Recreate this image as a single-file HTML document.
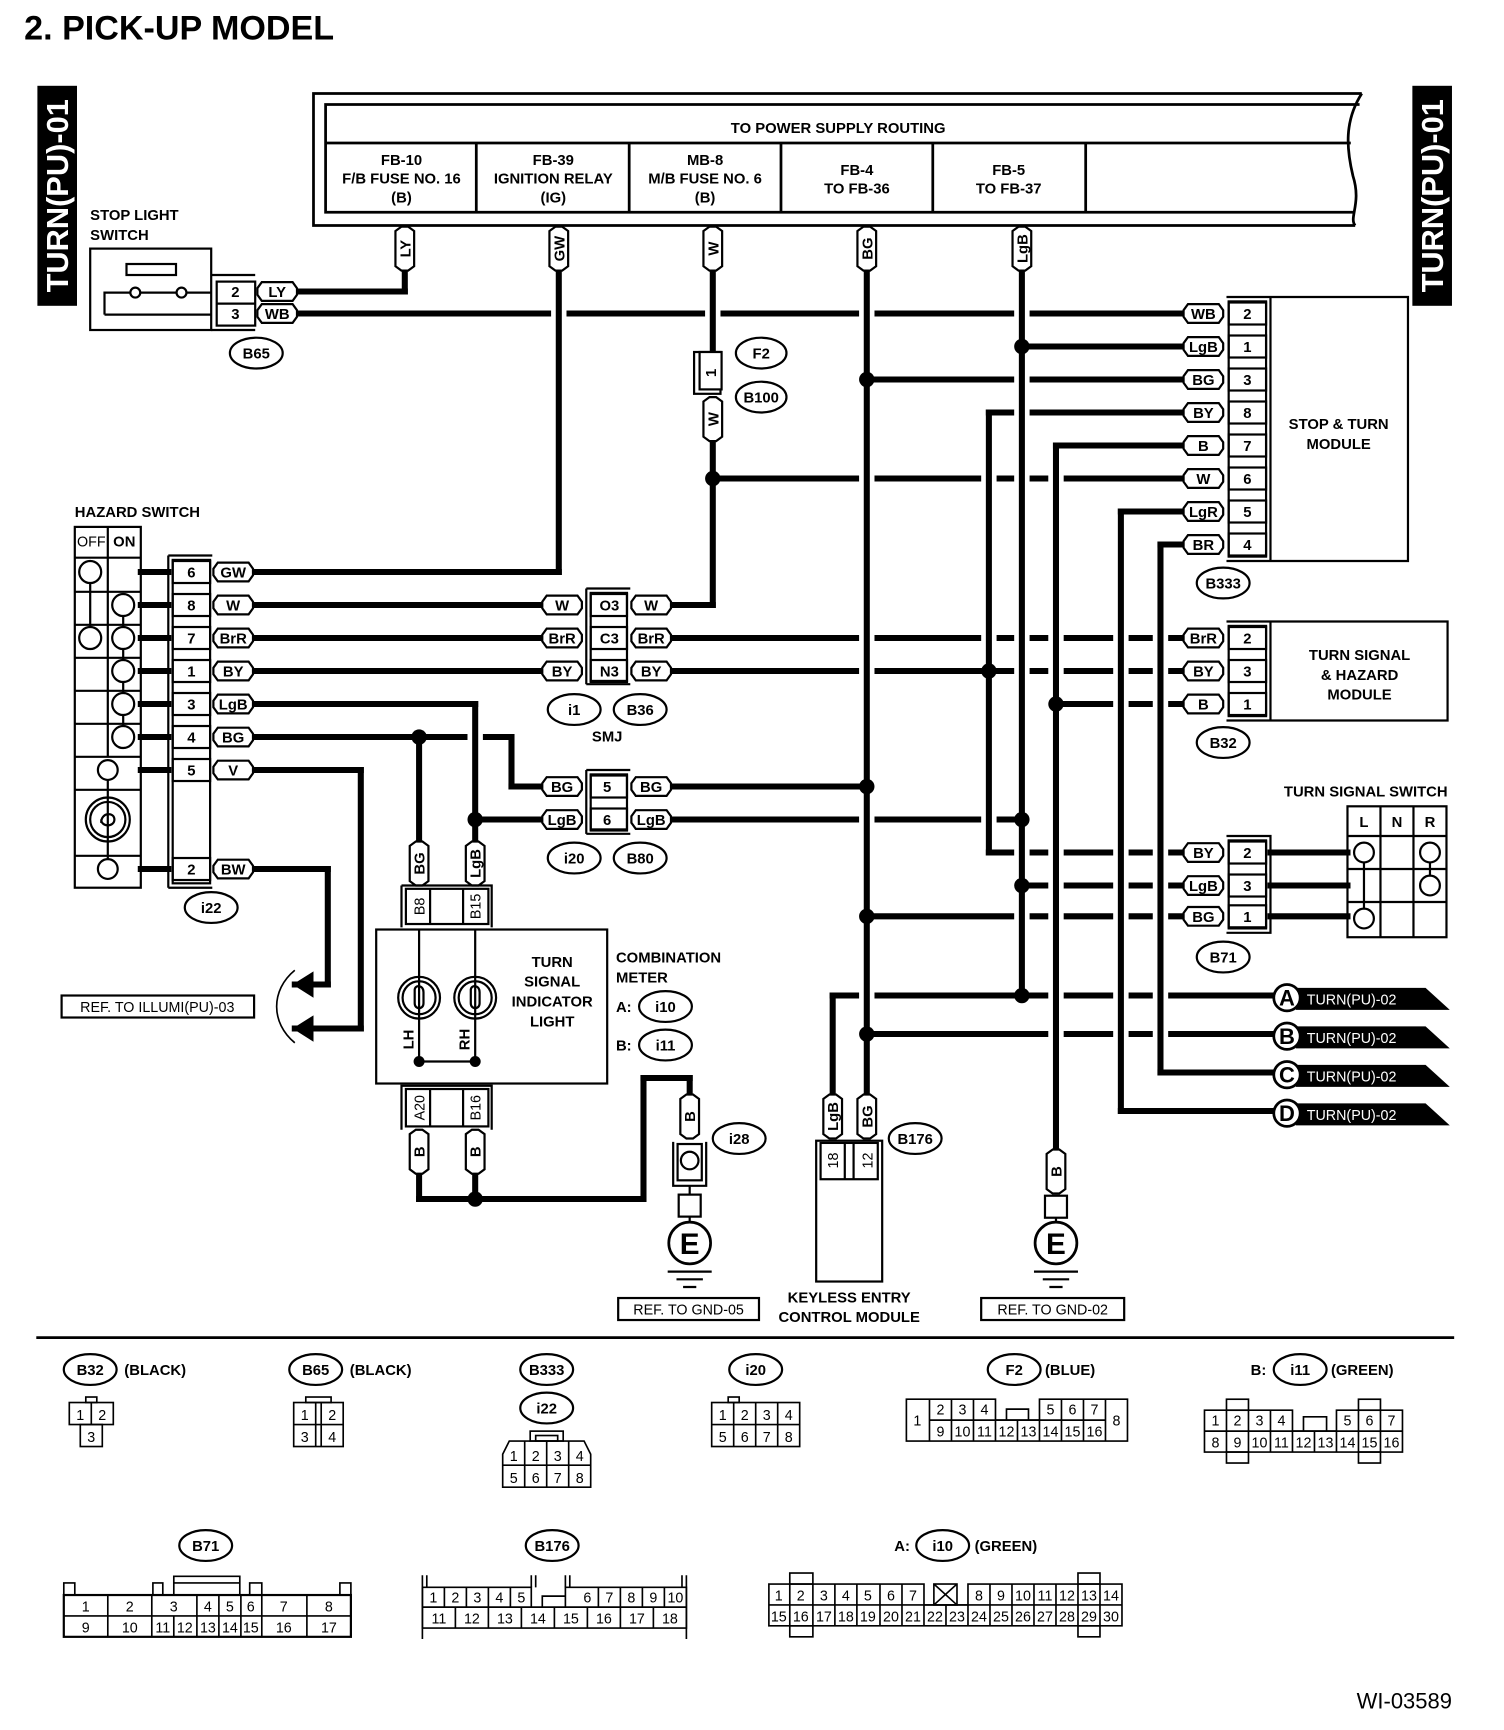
<!DOCTYPE html>
<html><head><meta charset="utf-8"><style>
html,body{margin:0;padding:0;background:#fff}
svg{display:block}
text{font-family:"Liberation Sans",sans-serif;font-weight:bold;fill:#000}
.c{text-anchor:middle}
.n{font-weight:normal;font-size:13px}
.s{font-size:13.5px}
</style></head><body>
<svg width="1504" height="1730" viewBox="0 0 1367.3 1572.7" preserveAspectRatio="none" xmlns="http://www.w3.org/2000/svg">
<defs>
<polygon id="ph" points="-18,-3 -14,-8.5 14,-8.5 18,-3 18,3 14,8.5 -14,8.5 -18,3" fill="#fff" stroke="#000" stroke-width="2"/>
<polygon id="pv" points="-3,-20 -8.5,-16 -8.5,16 -3,20 3,20 8.5,16 8.5,-16 3,-20" fill="#fff" stroke="#000" stroke-width="2"/>
</defs>
<rect width="1367.3" height="1572.7" fill="#fff"/>
<text x="22" y="36" font-size="31">2.  PICK-UP MODEL</text>
<rect x="34" y="78" width="36" height="200" fill="#000"/>
<text transform="translate(62,178) rotate(-90)" class="c" font-size="28" style="fill:#fff">TURN(PU)-01</text>
<rect x="1284" y="78" width="36" height="200" fill="#000"/>
<text transform="translate(1312,178) rotate(-90)" class="c" font-size="28" style="fill:#fff">TURN(PU)-01</text>

<!-- power box -->
<g fill="none" stroke="#000" stroke-width="2.5">
<path d="M1238,85 L285,85 L285,205 L1232,205"/>
<path d="M1236,95 L296,95 L296,193 L1230,193"/>
<path d="M296,130 L1228,130"/>
<path d="M1238,85 C1222,110 1224,135 1230,160 C1238,185 1226,198 1232,205"/>
<path d="M433,130V193M572,130V193M710,130V193M848,130V193M987,130V193"/>
</g>
<text x="762" y="121" class="c s">TO POWER SUPPLY ROUTING</text>
<text x="365" y="150" class="c s">FB-10</text><text x="365" y="167" class="c s">F/B FUSE NO. 16</text><text x="365" y="184" class="c s">(B)</text>
<text x="503" y="150" class="c s">FB-39</text><text x="503" y="167" class="c s">IGNITION RELAY</text><text x="503" y="184" class="c s">(IG)</text>
<text x="641" y="150" class="c s">MB-8</text><text x="641" y="167" class="c s">M/B FUSE NO. 6</text><text x="641" y="184" class="c s">(B)</text>
<text x="779" y="159" class="c s">FB-4</text><text x="779" y="176" class="c s">TO FB-36</text>
<text x="917" y="159" class="c s">FB-5</text><text x="917" y="176" class="c s">TO FB-37</text>

<!-- horizontal wires -->
<g stroke="#000" stroke-width="5.5" stroke-linecap="square" fill="none">
<path d="M270,265H368M270,285H1076M929,315H1076M788,345H1076M899,375H1076M960,405H1076M648,435H1076M1019,465H1076M1055,495H1076"/>
<path d="M231,520H508M231,550H492M612,550H648M231,580H492M612,580H1076M231,610H492M612,610H1076M960,640H1076M231,640H432M231,670H465M465,715H492M612,715H788M432,745H492M612,745H929"/>
<path d="M231,700H328M268,935H328M231,790H298M268,895H298"/>
<path d="M899,775H1076M1155,775H1225M929,805H1076M1155,805H1225M788,833H1076M1155,833H1225"/>
<path d="M757,905H1160M788,940H1160M1055,975H1160M1019,1010H1160"/>
<path d="M381,1090H585M585,980H627"/>
<path d="M128,520H153M128,550H153M128,580H153M128,610H153M128,640H153M128,670H153M128,700H153M128,790H153"/>
</g>
<!-- gaps -->
<g fill="#fff">
<rect x="501" y="280" width="14" height="10"/><rect x="641" y="280" width="14" height="10"/><rect x="781" y="280" width="14" height="10"/><rect x="922" y="280" width="14" height="10"/>
<rect x="922" y="340" width="14" height="10"/><rect x="922" y="370" width="14" height="10"/>
<rect x="781" y="430" width="14" height="10"/><rect x="892" y="430" width="14" height="10"/><rect x="922" y="430" width="14" height="10"/><rect x="953" y="430" width="14" height="10"/>
<rect x="781" y="575" width="14" height="10"/><rect x="892" y="575" width="14" height="10"/><rect x="922" y="575" width="14" height="10"/><rect x="953" y="575" width="14" height="10"/><rect x="1012" y="575" width="14" height="10"/><rect x="1048" y="575" width="14" height="10"/>
<rect x="781" y="605" width="14" height="10"/><rect x="922" y="605" width="14" height="10"/><rect x="953" y="605" width="14" height="10"/><rect x="1012" y="605" width="14" height="10"/><rect x="1048" y="605" width="14" height="10"/>
<rect x="1012" y="635" width="14" height="10"/><rect x="1048" y="635" width="14" height="10"/>
<rect x="425" y="665" width="14" height="10"/>
<rect x="781" y="740" width="14" height="10"/><rect x="892" y="740" width="14" height="10"/>
<rect x="922" y="770" width="14" height="10"/><rect x="953" y="770" width="14" height="10"/><rect x="1012" y="770" width="14" height="10"/><rect x="1048" y="770" width="14" height="10"/>
<rect x="953" y="800" width="14" height="10"/><rect x="1012" y="800" width="14" height="10"/><rect x="1048" y="800" width="14" height="10"/>
<rect x="922" y="828" width="14" height="10"/><rect x="953" y="828" width="14" height="10"/><rect x="1012" y="828" width="14" height="10"/><rect x="1048" y="828" width="14" height="10"/>
<rect x="781" y="900" width="14" height="10"/><rect x="953" y="900" width="14" height="10"/><rect x="1012" y="900" width="14" height="10"/><rect x="1048" y="900" width="14" height="10"/>
<rect x="953" y="935" width="14" height="10"/><rect x="1012" y="935" width="14" height="10"/><rect x="1048" y="935" width="14" height="10"/>
<rect x="1012" y="970" width="14" height="10"/>
</g>
<!-- vertical wires -->
<g stroke="#000" stroke-width="5.5" stroke-linecap="square" fill="none">
<path d="M368,246V265M508,246V520M648,246V320M648,400V550M788,246V995M929,246V905M899,375V775M960,405V1045M1019,465V1010M1055,495V975M757,905V995"/>
<path d="M432,640V765M381,670V765M465,670V715M328,700V935M298,790V895M381,1065V1090M432,1065V1090M585,980V1090M627,980V995"/>
</g>
<g fill="#000">
<circle cx="648" cy="435" r="7"/><circle cx="788" cy="345" r="7"/><circle cx="788" cy="715" r="7"/><circle cx="788" cy="833" r="7"/><circle cx="788" cy="940" r="7"/>
<circle cx="929" cy="315" r="7"/><circle cx="929" cy="745" r="7"/><circle cx="929" cy="805" r="7"/><circle cx="929" cy="905" r="7"/>
<circle cx="899" cy="610" r="7"/><circle cx="960" cy="640" r="7"/><circle cx="381" cy="670" r="7"/><circle cx="432" cy="745" r="7"/><circle cx="432" cy="1090" r="7"/>
</g>

<!-- top vertical pills -->
<use href="#pv" x="368" y="226"/><text transform="translate(373,226) rotate(-90)" class="c s">LY</text>
<use href="#pv" x="508" y="226"/><text transform="translate(513,226) rotate(-90)" class="c s">GW</text>
<use href="#pv" x="648" y="226"/><text transform="translate(653,226) rotate(-90)" class="c s">W</text>
<use href="#pv" x="788" y="226"/><text transform="translate(793,226) rotate(-90)" class="c s">BG</text>
<use href="#pv" x="929" y="226"/><text transform="translate(934,226) rotate(-90)" class="c s">LgB</text>
<!-- B100 -->
<g fill="none" stroke="#000" stroke-width="2"><rect x="631" y="320" width="24" height="38"/><rect x="636" y="320" width="20" height="34" fill="#fff"/></g>
<text transform="translate(651,339) rotate(-90)" class="c s">1</text>
<use href="#pv" x="648" y="381"/><text transform="translate(653,381) rotate(-90)" class="c s">W</text>
<ellipse cx="692" cy="321" rx="23" ry="14" fill="#fff" stroke="#000" stroke-width="2"/><text x="692" y="326" class="c s">F2</text>
<ellipse cx="692" cy="361" rx="23" ry="14" fill="#fff" stroke="#000" stroke-width="2"/><text x="692" y="366" class="c s">B100</text>

<!-- stop light switch -->
<text x="82" y="200" class="s">STOP LIGHT</text><text x="82" y="218" class="s">SWITCH</text>
<g fill="none" stroke="#000" stroke-width="2">
<rect x="82" y="226" width="110" height="74"/>
<rect x="115" y="240" width="45" height="10"/>
<path d="M95,286V266H118M128,266H160M170,266H192M95,286H192"/>
<circle cx="123" cy="266" r="4.5"/><circle cx="165" cy="266" r="4.5"/>
<path d="M192,250H232M192,300H232"/><rect x="197" y="256" width="35" height="40"/>
<path d="M197,276H232"/>
</g>
<text x="214" y="270" class="c s">2</text><text x="214" y="290" class="c s">3</text>
<use href="#ph" x="252" y="265"/><text x="252" y="270" class="c s">LY</text>
<use href="#ph" x="252" y="285"/><text x="252" y="290" class="c s">WB</text>
<ellipse cx="233" cy="321" rx="24" ry="14" fill="#fff" stroke="#000" stroke-width="2"/><text x="233" y="326" class="c s">B65</text>

<!-- B333 stop & turn -->
<g fill="none" stroke="#000" stroke-width="2">
<path d="M1115,270H1280V510H1115"/><path d="M1155,270V510"/><rect x="1117" y="274" width="34" height="232"/>
<rect x="1117" y="275" width="34" height="20"/><rect x="1117" y="305" width="34" height="20"/><rect x="1117" y="335" width="34" height="20"/><rect x="1117" y="365" width="34" height="20"/><rect x="1117" y="395" width="34" height="20"/><rect x="1117" y="425" width="34" height="20"/><rect x="1117" y="455" width="34" height="20"/><rect x="1117" y="485" width="34" height="20"/>
</g>
<text x="1134" y="290" class="c s">2</text><text x="1134" y="320" class="c s">1</text><text x="1134" y="350" class="c s">3</text><text x="1134" y="380" class="c s">8</text><text x="1134" y="410" class="c s">7</text><text x="1134" y="440" class="c s">6</text><text x="1134" y="470" class="c s">5</text><text x="1134" y="500" class="c s">4</text>
<use href="#ph" x="1094" y="285"/><text x="1094" y="290" class="c s">WB</text>
<use href="#ph" x="1094" y="315"/><text x="1094" y="320" class="c s">LgB</text>
<use href="#ph" x="1094" y="345"/><text x="1094" y="350" class="c s">BG</text>
<use href="#ph" x="1094" y="375"/><text x="1094" y="380" class="c s">BY</text>
<use href="#ph" x="1094" y="405"/><text x="1094" y="410" class="c s">B</text>
<use href="#ph" x="1094" y="435"/><text x="1094" y="440" class="c s">W</text>
<use href="#ph" x="1094" y="465"/><text x="1094" y="470" class="c s">LgR</text>
<use href="#ph" x="1094" y="495"/><text x="1094" y="500" class="c s">BR</text>
<text x="1217" y="390" class="c s">STOP &amp; TURN</text><text x="1217" y="408" class="c s">MODULE</text>
<ellipse cx="1112" cy="530" rx="24" ry="14" fill="#fff" stroke="#000" stroke-width="2"/><text x="1112" y="535" class="c s">B333</text>

<!-- B32 turn signal module -->
<g fill="none" stroke="#000" stroke-width="2">
<path d="M1115,565H1316V655H1115"/><path d="M1155,565V655"/><rect x="1117" y="569" width="34" height="82"/>
<rect x="1117" y="570" width="34" height="20"/><rect x="1117" y="600" width="34" height="20"/><rect x="1117" y="630" width="34" height="20"/>
</g>
<text x="1134" y="585" class="c s">2</text><text x="1134" y="615" class="c s">3</text><text x="1134" y="645" class="c s">1</text>
<use href="#ph" x="1094" y="580"/><text x="1094" y="585" class="c s">BrR</text>
<use href="#ph" x="1094" y="610"/><text x="1094" y="615" class="c s">BY</text>
<use href="#ph" x="1094" y="640"/><text x="1094" y="645" class="c s">B</text>
<text x="1236" y="600" class="c s">TURN SIGNAL</text><text x="1236" y="618" class="c s">&amp; HAZARD</text><text x="1236" y="636" class="c s">MODULE</text>
<ellipse cx="1112" cy="675" rx="24" ry="14" fill="#fff" stroke="#000" stroke-width="2"/><text x="1112" y="680" class="c s">B32</text>

<!-- turn signal switch -->
<text x="1316" y="724" class="s" text-anchor="end">TURN SIGNAL SWITCH</text>
<g fill="none" stroke="#000" stroke-width="2">
<rect x="1225" y="733" width="90" height="119"/>
<path d="M1255,733V852M1285,733V852M1225,760H1315M1225,790H1315M1225,820H1315"/>
<path d="M1240,775V835M1300,775V805"/>
<circle cx="1240" cy="775" r="9" fill="#fff"/><circle cx="1240" cy="835" r="9" fill="#fff"/><circle cx="1300" cy="775" r="9" fill="#fff"/><circle cx="1300" cy="805" r="9" fill="#fff"/>
<path d="M1115,760H1155V848H1115"/><rect x="1117" y="764" width="34" height="80"/>
<rect x="1117" y="765" width="34" height="20"/><rect x="1117" y="795" width="34" height="20"/><rect x="1117" y="823" width="34" height="20"/>
</g>
<text x="1240" y="752" class="c s">L</text><text x="1270" y="752" class="c s">N</text><text x="1300" y="752" class="c s">R</text>
<text x="1134" y="780" class="c s">2</text><text x="1134" y="810" class="c s">3</text><text x="1134" y="838" class="c s">1</text>
<use href="#ph" x="1094" y="775"/><text x="1094" y="780" class="c s">BY</text>
<use href="#ph" x="1094" y="805"/><text x="1094" y="810" class="c s">LgB</text>
<use href="#ph" x="1094" y="833"/><text x="1094" y="838" class="c s">BG</text>
<ellipse cx="1112" cy="870" rx="24" ry="14" fill="#fff" stroke="#000" stroke-width="2"/><text x="1112" y="875" class="c s">B71</text>

<!-- A-D tags -->
<g>
<polygon points="1178,898 1296,898 1318,918 1178,918" fill="#000"/>
<polygon points="1178,933 1296,933 1318,953 1178,953" fill="#000"/>
<polygon points="1178,968 1296,968 1318,988 1178,988" fill="#000"/>
<polygon points="1178,1003 1296,1003 1318,1023 1178,1023" fill="#000"/>
<circle cx="1170" cy="907" r="12" fill="#fff" stroke="#000" stroke-width="2.5"/>
<circle cx="1170" cy="942" r="12" fill="#fff" stroke="#000" stroke-width="2.5"/>
<circle cx="1170" cy="977" r="12" fill="#fff" stroke="#000" stroke-width="2.5"/>
<circle cx="1170" cy="1012" r="12" fill="#fff" stroke="#000" stroke-width="2.5"/>
</g>
<text x="1170" y="914" class="c" font-size="20">A</text><text x="1170" y="949" class="c" font-size="20">B</text><text x="1170" y="984" class="c" font-size="20">C</text><text x="1170" y="1019" class="c" font-size="20">D</text>
<text x="1188" y="913" class="n" style="fill:#fff">TURN(PU)-02</text>
<text x="1188" y="948" class="n" style="fill:#fff">TURN(PU)-02</text>
<text x="1188" y="983" class="n" style="fill:#fff">TURN(PU)-02</text>
<text x="1188" y="1018" class="n" style="fill:#fff">TURN(PU)-02</text>

<!-- hazard switch -->
<text x="68" y="470" class="s">HAZARD SWITCH</text>
<g fill="none" stroke="#000" stroke-width="2">
<rect x="68" y="479" width="60" height="328"/>
<path d="M98,479V688M68,507H128M68,538H128M68,568H128M68,598H128M68,628H128M68,658H128M68,688H128M68,718H128M68,778H128"/>
<path d="M82,520V580M112,550V670M98,700V790"/>
<circle cx="82" cy="520" r="10" fill="#fff"/><circle cx="82" cy="580" r="10" fill="#fff"/>
<circle cx="112" cy="550" r="10" fill="#fff"/><circle cx="112" cy="580" r="10" fill="#fff"/><circle cx="112" cy="610" r="10" fill="#fff"/><circle cx="112" cy="640" r="10" fill="#fff"/><circle cx="112" cy="670" r="10" fill="#fff"/>
<circle cx="98" cy="700" r="9" fill="#fff"/><circle cx="98" cy="790" r="9" fill="#fff"/>
<circle cx="98" cy="745" r="20" fill="#fff"/><circle cx="98" cy="745" r="16"/><path d="M98,725V765M92,748C92,738 104,738 104,745C104,752 92,752 92,745"/>
</g>
<text x="83" y="497" class="c n">OFF</text><text x="113" y="497" class="c s">ON</text>
<g fill="none" stroke="#000" stroke-width="2">
<path d="M153,505V807M153,505H193M153,807H193"/><rect x="157" y="509" width="34" height="294"/>
<rect x="157" y="510" width="34" height="20"/><rect x="157" y="540" width="34" height="20"/><rect x="157" y="570" width="34" height="20"/><rect x="157" y="600" width="34" height="20"/><rect x="157" y="630" width="34" height="20"/><rect x="157" y="660" width="34" height="20"/><rect x="157" y="690" width="34" height="20"/><rect x="157" y="780" width="34" height="20"/>
</g>
<text x="174" y="525" class="c s">6</text><text x="174" y="555" class="c s">8</text><text x="174" y="585" class="c s">7</text><text x="174" y="615" class="c s">1</text><text x="174" y="645" class="c s">3</text><text x="174" y="675" class="c s">4</text><text x="174" y="705" class="c s">5</text><text x="174" y="795" class="c s">2</text>
<use href="#ph" x="212" y="520"/><text x="212" y="525" class="c s">GW</text>
<use href="#ph" x="212" y="550"/><text x="212" y="555" class="c s">W</text>
<use href="#ph" x="212" y="580"/><text x="212" y="585" class="c s">BrR</text>
<use href="#ph" x="212" y="610"/><text x="212" y="615" class="c s">BY</text>
<use href="#ph" x="212" y="640"/><text x="212" y="645" class="c s">LgB</text>
<use href="#ph" x="212" y="670"/><text x="212" y="675" class="c s">BG</text>
<use href="#ph" x="212" y="700"/><text x="212" y="705" class="c s">V</text>
<use href="#ph" x="212" y="790"/><text x="212" y="795" class="c s">BW</text>
<ellipse cx="192" cy="825" rx="24" ry="14" fill="#fff" stroke="#000" stroke-width="2"/><text x="192" y="830" class="c s">i22</text>

<!-- illumi ref -->
<rect x="56" y="905" width="175" height="20" fill="#fff" stroke="#000" stroke-width="2"/>
<text x="143" y="920" class="c n">REF. TO ILLUMI(PU)-03</text>
<polygon points="266,895 285,883 285,907" fill="#000"/><polygon points="266,935 285,923 285,947" fill="#000"/>
<path d="M268,882 C246,900 246,930 268,948" fill="none" stroke="#000" stroke-width="1.5"/>

<!-- SMJ -->
<g fill="none" stroke="#000" stroke-width="2">
<path d="M533,535V622M533,535H573M533,622H573"/><rect x="537" y="539" width="33" height="80"/>
<rect x="537" y="540" width="33" height="20"/><rect x="537" y="570" width="33" height="20"/><rect x="537" y="600" width="33" height="20"/>
</g>
<text x="554" y="555" class="c s">O3</text><text x="554" y="585" class="c s">C3</text><text x="554" y="615" class="c s">N3</text>
<use href="#ph" x="511" y="550"/><text x="511" y="555" class="c s">W</text>
<use href="#ph" x="511" y="580"/><text x="511" y="585" class="c s">BrR</text>
<use href="#ph" x="511" y="610"/><text x="511" y="615" class="c s">BY</text>
<use href="#ph" x="592" y="550"/><text x="592" y="555" class="c s">W</text>
<use href="#ph" x="592" y="580"/><text x="592" y="585" class="c s">BrR</text>
<use href="#ph" x="592" y="610"/><text x="592" y="615" class="c s">BY</text>
<ellipse cx="522" cy="645" rx="24" ry="14" fill="#fff" stroke="#000" stroke-width="2"/><text x="522" y="650" class="c s">i1</text>
<ellipse cx="582" cy="645" rx="24" ry="14" fill="#fff" stroke="#000" stroke-width="2"/><text x="582" y="650" class="c s">B36</text>
<text x="552" y="674" class="c s">SMJ</text>

<!-- i20/B80 -->
<g fill="none" stroke="#000" stroke-width="2">
<path d="M533,700V758M533,700H573M533,758H573"/><rect x="537" y="704" width="33" height="50"/>
<rect x="537" y="705" width="33" height="20"/><rect x="537" y="735" width="33" height="20"/>
</g>
<text x="552" y="720" class="c s">5</text><text x="552" y="750" class="c s">6</text>
<use href="#ph" x="511" y="715"/><text x="511" y="720" class="c s">BG</text>
<use href="#ph" x="511" y="745"/><text x="511" y="750" class="c s">LgB</text>
<use href="#ph" x="592" y="715"/><text x="592" y="720" class="c s">BG</text>
<use href="#ph" x="592" y="745"/><text x="592" y="750" class="c s">LgB</text>
<ellipse cx="522" cy="780" rx="24" ry="14" fill="#fff" stroke="#000" stroke-width="2"/><text x="522" y="785" class="c s">i20</text>
<ellipse cx="582" cy="780" rx="24" ry="14" fill="#fff" stroke="#000" stroke-width="2"/><text x="582" y="785" class="c s">B80</text>

<!-- combination meter -->
<use href="#pv" x="381" y="785"/><text transform="translate(386,785) rotate(-90)" class="c s">BG</text>
<use href="#pv" x="432" y="785"/><text transform="translate(437,785) rotate(-90)" class="c s">LgB</text>
<g fill="none" stroke="#000" stroke-width="2">
<path d="M365,805V843M365,805H447V843"/><rect x="369" y="808" width="75" height="32"/><path d="M391,808V840M421,808V840"/>
<rect x="342" y="845" width="210" height="140"/>
<path d="M381,845V965M432,845V965M381,965H432"/>
<circle cx="381" cy="907" r="19" fill="#fff"/><circle cx="381" cy="907" r="15"/><circle cx="432" cy="907" r="19" fill="#fff"/><circle cx="432" cy="907" r="15"/>
<path d="M381,888V926M377,900C377,895 385,895 385,902V912C385,918 377,918 377,912Z"/>
<path d="M432,888V926M428,900C428,895 436,895 436,902V912C436,918 428,918 428,912Z"/>
<path d="M365,1027V987H447V1027"/><rect x="369" y="990" width="75" height="34"/><path d="M391,990V1024M421,990V1024"/>
</g>
<circle cx="381" cy="965" r="5"/><circle cx="432" cy="965" r="5"/>
<text transform="translate(386,824) rotate(-90)" class="c n">B8</text>
<text transform="translate(437,824) rotate(-90)" class="c n">B15</text>
<text transform="translate(386,1007) rotate(-90)" class="c n">A20</text>
<text transform="translate(437,1007) rotate(-90)" class="c n">B16</text>
<text transform="translate(376,945) rotate(-90)" class="c s">LH</text>
<text transform="translate(427,945) rotate(-90)" class="c s">RH</text>
<text x="502" y="879" class="c s">TURN</text><text x="502" y="897" class="c s">SIGNAL</text><text x="502" y="915" class="c s">INDICATOR</text><text x="502" y="933" class="c s">LIGHT</text>
<text x="560" y="875" class="s">COMBINATION</text><text x="560" y="893" class="s">METER</text>
<text x="560" y="920" class="s">A:</text><ellipse cx="605" cy="915" rx="24" ry="14" fill="#fff" stroke="#000" stroke-width="2"/><text x="605" y="920" class="c s">i10</text>
<text x="560" y="955" class="s">B:</text><ellipse cx="605" cy="950" rx="24" ry="14" fill="#fff" stroke="#000" stroke-width="2"/><text x="605" y="955" class="c s">i11</text>
<use href="#pv" x="381" y="1047"/><text transform="translate(386,1047) rotate(-90)" class="c s">B</text>
<use href="#pv" x="432" y="1047"/><text transform="translate(437,1047) rotate(-90)" class="c s">B</text>

<!-- i28 ground -->
<use href="#pv" x="627" y="1015"/><text transform="translate(632,1015) rotate(-90)" class="c s">B</text>
<g fill="none" stroke="#000" stroke-width="2">
<path d="M612,1038V1078H642V1038"/><rect x="616" y="1040" width="22" height="33" fill="#fff"/><circle cx="627" cy="1055" r="8"/>
<path d="M627,1078V1086"/><rect x="617" y="1086" width="20" height="20"/>
<path d="M627,1106V1112"/>
</g>
<circle cx="627" cy="1130" r="19" fill="#fff" stroke="#000" stroke-width="2.5"/><text x="627" y="1140" class="c" font-size="27">E</text>
<path d="M607,1156H647M615,1163H639M621,1170H633" stroke="#000" stroke-width="2"/>
<ellipse cx="672" cy="1035" rx="24" ry="14" fill="#fff" stroke="#000" stroke-width="2"/><text x="672" y="1040" class="c s">i28</text>
<rect x="562" y="1180" width="128" height="20" fill="#fff" stroke="#000" stroke-width="2"/><text x="626" y="1195" class="c n">REF. TO GND-05</text>

<!-- B176 -->
<use href="#pv" x="757" y="1015"/><text transform="translate(762,1015) rotate(-90)" class="c s">LgB</text>
<use href="#pv" x="788" y="1015"/><text transform="translate(793,1015) rotate(-90)" class="c s">BG</text>
<g fill="none" stroke="#000" stroke-width="2">
<rect x="742" y="1037" width="60" height="128"/><rect x="746" y="1039" width="52" height="33"/><path d="M768,1039V1072M776,1039V1072"/>
</g>
<text transform="translate(762,1055) rotate(-90)" class="c n">18</text>
<text transform="translate(793,1055) rotate(-90)" class="c n">12</text>
<ellipse cx="832" cy="1035" rx="24" ry="14" fill="#fff" stroke="#000" stroke-width="2"/><text x="832" y="1040" class="c s">B176</text>
<text x="772" y="1184" class="c s">KEYLESS ENTRY</text><text x="772" y="1202" class="c s">CONTROL MODULE</text>

<!-- ground 02 -->
<use href="#pv" x="960" y="1065"/><text transform="translate(965,1065) rotate(-90)" class="c s">B</text>
<rect x="950" y="1087" width="20" height="20" fill="#fff" stroke="#000" stroke-width="2"/>
<path d="M960,1107V1112" stroke="#000" stroke-width="2"/>
<circle cx="960" cy="1130" r="19" fill="#fff" stroke="#000" stroke-width="2.5"/><text x="960" y="1140" class="c" font-size="27">E</text>
<path d="M940,1156H980M948,1163H972M954,1170H966" stroke="#000" stroke-width="2"/>
<rect x="892" y="1180" width="130" height="20" fill="#fff" stroke="#000" stroke-width="2"/><text x="957" y="1195" class="c n">REF. TO GND-02</text>

<path d="M33,1216H1322" stroke="#000" stroke-width="2.5"/>

<!-- bottom connectors -->
<g fill="none" stroke="#000" stroke-width="1.5">
<!-- B32 -->
<rect x="63" y="1275" width="40" height="20"/><path d="M83,1275V1295"/><rect x="73" y="1295" width="20" height="20"/><rect x="78" y="1270" width="10" height="5"/>
<!-- B65 -->
<rect x="267" y="1275" width="45" height="40"/><path d="M287,1275V1315M292,1275V1315M267,1295H312"/><rect x="278" y="1270" width="23" height="5"/>
<!-- i22 -->
<path d="M457,1352V1322L463,1310H531L537,1322V1352Z"/><path d="M477,1310V1352M497,1310V1352M517,1310V1352M457,1332H537"/><rect x="482" y="1301" width="30" height="9"/><rect x="487" y="1305" width="20" height="5"/>
<!-- i20 -->
<rect x="647" y="1275" width="80" height="40"/><path d="M667,1275V1315M687,1275V1315M707,1275V1315M647,1295H727"/><rect x="662" y="1270" width="10" height="5"/>
<!-- F2 -->
<path d="M824,1272H905V1291H945V1272H1025V1310H824Z"/><path d="M845,1272V1310M1005,1272V1310M865,1272V1310M885,1272V1310M905,1291V1310M925,1291V1310M945,1291V1310M965,1272V1310M985,1272V1310M845,1291H1005"/><path d="M915,1291V1281H935V1291"/>
<!-- i11 -->
<path d="M1095,1282H1175V1301H1215V1282H1275V1320H1095Z"/><path d="M1115,1282V1320M1135,1282V1320M1155,1282V1320M1175,1301V1320M1195,1301V1320M1215,1301V1320M1235,1282V1320M1255,1282V1320M1095,1301H1275"/><path d="M1185,1301V1288H1206V1301"/>
<rect x="1115" y="1272" width="20" height="10"/><rect x="1235" y="1272" width="20" height="10"/><rect x="1115" y="1320" width="20" height="10"/><rect x="1235" y="1320" width="20" height="10"/>
<!-- B71 -->
<rect x="58" y="1450" width="261" height="38" stroke-width="2"/><path d="M58,1469H319M98,1450V1488M138,1450V1488M179,1450V1488M199,1450V1488M219,1450V1488M238,1450V1488M279,1450V1488M158,1469V1488"/>
<path d="M58,1450V1439H68V1450M139,1450V1439H148V1450M158,1450V1433H218V1450M158,1439H218M227,1450V1439H238V1450M309,1450V1439H319V1450"/>
<!-- B176 -->
<path d="M384,1443H483V1461"/><path d="M514,1461V1443H624V1480H384V1443"/><path d="M404,1443V1461M424,1443V1461M444,1443V1461M464,1443V1461M544,1443V1461M564,1443V1461M584,1443V1461M604,1443V1461M384,1461H624M414,1461V1480M444,1461V1480M474,1461V1480M504,1461V1480M534,1461V1480M564,1461V1480M594,1461V1480"/>
<path d="M493,1461V1451H514"/><path d="M384,1432V1490M388,1432V1443M624,1432V1490M620,1432V1443"/><path d="M483,1432V1443M487,1432V1443M514,1432V1443M518,1432V1443"/>
<!-- i10 -->
<path d="M699,1440H840V1459H880V1440H1020V1478H699Z"/><path d="M718,1440V1478M739,1440V1478M759,1440V1478M779,1440V1478M800,1440V1478M820,1440V1478M840,1459V1478M860,1459V1478M900,1440V1478M920,1440V1478M940,1440V1478M960,1440V1478M980,1440V1478M1000,1440V1478M699,1459H1020M880,1459V1478"/>
<rect x="849" y="1440" width="21" height="19"/><path d="M849,1440L870,1459M870,1440L849,1459"/>
<rect x="718" y="1430" width="21" height="10"/><rect x="980" y="1430" width="20" height="10"/><rect x="718" y="1478" width="21" height="10"/><rect x="980" y="1478" width="20" height="10"/>
</g>
<g class="n">
<text x="73" y="1291" class="c n">1</text><text x="93" y="1291" class="c n">2</text><text x="83" y="1311" class="c n">3</text>
<text x="277" y="1291" class="c n">1</text><text x="302" y="1291" class="c n">2</text><text x="277" y="1311" class="c n">3</text><text x="302" y="1311" class="c n">4</text>
<text x="467" y="1328" class="c n">1</text><text x="487" y="1328" class="c n">2</text><text x="507" y="1328" class="c n">3</text><text x="527" y="1328" class="c n">4</text>
<text x="467" y="1348" class="c n">5</text><text x="487" y="1348" class="c n">6</text><text x="507" y="1348" class="c n">7</text><text x="527" y="1348" class="c n">8</text>
<text x="657" y="1291" class="c n">1</text><text x="677" y="1291" class="c n">2</text><text x="697" y="1291" class="c n">3</text><text x="717" y="1291" class="c n">4</text>
<text x="657" y="1311" class="c n">5</text><text x="677" y="1311" class="c n">6</text><text x="697" y="1311" class="c n">7</text><text x="717" y="1311" class="c n">8</text>
<text x="834" y="1296" class="c n">1</text><text x="855" y="1286" class="c n">2</text><text x="875" y="1286" class="c n">3</text><text x="895" y="1286" class="c n">4</text><text x="955" y="1286" class="c n">5</text><text x="975" y="1286" class="c n">6</text><text x="995" y="1286" class="c n">7</text><text x="1015" y="1296" class="c n">8</text>
<text x="855" y="1306" class="c n">9</text><text x="875" y="1306" class="c n">10</text><text x="895" y="1306" class="c n">11</text><text x="915" y="1306" class="c n">12</text><text x="935" y="1306" class="c n">13</text><text x="955" y="1306" class="c n">14</text><text x="975" y="1306" class="c n">15</text><text x="995" y="1306" class="c n">16</text>
<text x="1105" y="1296" class="c n">1</text><text x="1125" y="1296" class="c n">2</text><text x="1145" y="1296" class="c n">3</text><text x="1165" y="1296" class="c n">4</text><text x="1225" y="1296" class="c n">5</text><text x="1245" y="1296" class="c n">6</text><text x="1265" y="1296" class="c n">7</text>
<text x="1105" y="1316" class="c n">8</text><text x="1125" y="1316" class="c n">9</text><text x="1145" y="1316" class="c n">10</text><text x="1165" y="1316" class="c n">11</text><text x="1185" y="1316" class="c n">12</text><text x="1205" y="1316" class="c n">13</text><text x="1225" y="1316" class="c n">14</text><text x="1245" y="1316" class="c n">15</text><text x="1265" y="1316" class="c n">16</text>
<text x="78" y="1465" class="c n">1</text><text x="118" y="1465" class="c n">2</text><text x="158" y="1465" class="c n">3</text><text x="189" y="1465" class="c n">4</text><text x="209" y="1465" class="c n">5</text><text x="228" y="1465" class="c n">6</text><text x="258" y="1465" class="c n">7</text><text x="299" y="1465" class="c n">8</text>
<text x="78" y="1484" class="c n">9</text><text x="118" y="1484" class="c n">10</text><text x="148" y="1484" class="c n">11</text><text x="168" y="1484" class="c n">12</text><text x="189" y="1484" class="c n">13</text><text x="209" y="1484" class="c n">14</text><text x="228" y="1484" class="c n">15</text><text x="258" y="1484" class="c n">16</text><text x="299" y="1484" class="c n">17</text>
<text x="394" y="1457" class="c n">1</text><text x="414" y="1457" class="c n">2</text><text x="434" y="1457" class="c n">3</text><text x="454" y="1457" class="c n">4</text><text x="474" y="1457" class="c n">5</text><text x="534" y="1457" class="c n">6</text><text x="554" y="1457" class="c n">7</text><text x="574" y="1457" class="c n">8</text><text x="594" y="1457" class="c n">9</text><text x="614" y="1457" class="c n">10</text>
<text x="399" y="1476" class="c n">11</text><text x="429" y="1476" class="c n">12</text><text x="459" y="1476" class="c n">13</text><text x="489" y="1476" class="c n">14</text><text x="519" y="1476" class="c n">15</text><text x="549" y="1476" class="c n">16</text><text x="579" y="1476" class="c n">17</text><text x="609" y="1476" class="c n">18</text>
<text x="708" y="1455" class="c n">1</text><text x="728" y="1455" class="c n">2</text><text x="749" y="1455" class="c n">3</text><text x="769" y="1455" class="c n">4</text><text x="789" y="1455" class="c n">5</text><text x="810" y="1455" class="c n">6</text><text x="830" y="1455" class="c n">7</text>
<text x="890" y="1455" class="c n">8</text><text x="910" y="1455" class="c n">9</text><text x="930" y="1455" class="c n">10</text><text x="950" y="1455" class="c n">11</text><text x="970" y="1455" class="c n">12</text><text x="990" y="1455" class="c n">13</text><text x="1010" y="1455" class="c n">14</text>
<text x="708" y="1474" class="c n">15</text><text x="728" y="1474" class="c n">16</text><text x="749" y="1474" class="c n">17</text><text x="769" y="1474" class="c n">18</text><text x="789" y="1474" class="c n">19</text><text x="810" y="1474" class="c n">20</text><text x="830" y="1474" class="c n">21</text><text x="850" y="1474" class="c n">22</text><text x="870" y="1474" class="c n">23</text><text x="890" y="1474" class="c n">24</text><text x="910" y="1474" class="c n">25</text><text x="930" y="1474" class="c n">26</text><text x="950" y="1474" class="c n">27</text><text x="970" y="1474" class="c n">28</text><text x="990" y="1474" class="c n">29</text><text x="1010" y="1474" class="c n">30</text>
</g>
<!-- bottom labels -->
<g fill="#fff" stroke="#000" stroke-width="2">
<ellipse cx="82" cy="1245" rx="24" ry="14"/><ellipse cx="287" cy="1245" rx="24" ry="14"/><ellipse cx="497" cy="1245" rx="24" ry="14"/><ellipse cx="497" cy="1280" rx="24" ry="14"/>
<ellipse cx="687" cy="1245" rx="24" ry="14"/><ellipse cx="922" cy="1245" rx="24" ry="14"/><ellipse cx="1182" cy="1245" rx="24" ry="14"/>
<ellipse cx="187" cy="1405" rx="24" ry="14"/><ellipse cx="502" cy="1405" rx="24" ry="14"/><ellipse cx="857" cy="1405" rx="24" ry="14"/>
</g>
<text x="82" y="1250" class="c s">B32</text><text x="113" y="1250" class="s">(BLACK)</text>
<text x="287" y="1250" class="c s">B65</text><text x="318" y="1250" class="s">(BLACK)</text>
<text x="497" y="1250" class="c s">B333</text><text x="497" y="1285" class="c s">i22</text>
<text x="687" y="1250" class="c s">i20</text>
<text x="922" y="1250" class="c s">F2</text><text x="950" y="1250" class="s">(BLUE)</text>
<text x="1137" y="1250" class="s">B:</text><text x="1182" y="1250" class="c s">i11</text><text x="1210" y="1250" class="s">(GREEN)</text>
<text x="187" y="1410" class="c s">B71</text>
<text x="502" y="1410" class="c s">B176</text>
<text x="813" y="1410" class="s">A:</text><text x="857" y="1410" class="c s">i10</text><text x="886" y="1410" class="s">(GREEN)</text>
<text x="1320" y="1553" class="n" font-size="20" text-anchor="end" style="font-size:20px">WI-03589</text>
</svg>
</body></html>
